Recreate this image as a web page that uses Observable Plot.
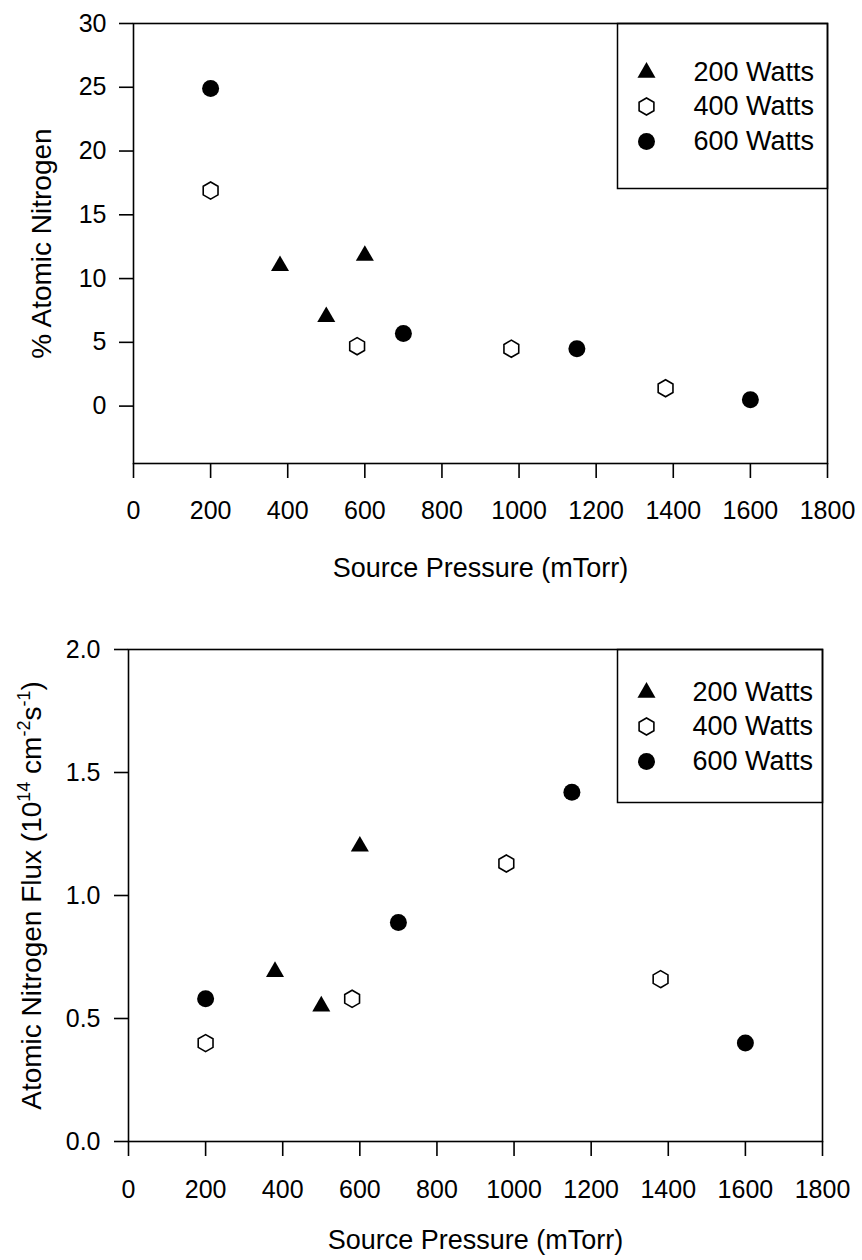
<!DOCTYPE html>
<html>
<head>
<meta charset="utf-8">
<script src="https://cdn.jsdelivr.net/npm/d3@7"></script>
<script src="https://cdn.jsdelivr.net/npm/@observablehq/plot@0.6"></script>
<style>
html, body { margin: 0; padding: 0; background: #fff; }
#chart { width: 862px; }
#chart svg { display: block; }
</style>
</head>
<body>
<div id="chart"></div>
<script>
// ---------- data ----------
const seriesNames = ["200 Watts", "400 Watts", "600 Watts"];

const pressure200 = [380, 500, 600];
const pressure400 = [200, 580, 980, 1380];
const pressure600 = [200, 700, 1150, 1600];

const percentN200 = [11.0, 7.0, 11.8];
const percentN400 = [16.9, 4.7, 4.5, 1.4];
const percentN600 = [24.9, 5.7, 4.5, 0.5];

const flux200 = [0.69, 0.55, 1.20];
const flux400 = [0.40, 0.58, 1.13, 0.66];
const flux600 = [0.58, 0.89, 1.42, 0.40];

const xTicks = [0, 200, 400, 600, 800, 1000, 1200, 1400, 1600, 1800];
const yTicksTop = [0, 5, 10, 15, 20, 25, 30];
const yTicksBottom = [0, 0.5, 1.0, 1.5, 2.0];

const xTitle = "Source Pressure (mTorr)";
const yTitleTop = "% Atomic Nitrogen";
const yTitleBottomParts = [
  ["Atomic Nitrogen Flux (10", false], ["14", true], [" cm", false],
  ["-2", true], ["s", false], ["-1", true], [")", false]
];

// ---------- helpers ----------
function rows(pressures, values, series) {
  return pressures.map((p, i) => ({pressure: p, value: values[i], series}));
}

const seriesStyle = {
  "200 Watts": {symbol: "triangle", r: 6.7, fill: "black", stroke: "none"},
  "400 Watts": {symbol: "hexagon", r: 7.4, fill: "white", stroke: "black", strokeWidth: 1.6},
  "600 Watts": {symbol: "circle", r: 8.5, fill: "black", stroke: "none"}
};

const FONT = "'Liberation Sans', Arial, Helvetica, sans-serif";

function panel(cfg) {
  const marks = [];
  // legend box
  marks.push(Plot.frame({
    insetLeft: cfg.legendLeft, insetBottom: cfg.legendBottom,
    stroke: "black", strokeWidth: 1.5, fill: "white"
  }));
  marks.push(Plot.frame({stroke: "black", strokeWidth: 1.6}));
  marks.push(Plot.axisX({
    ticks: xTicks, tickSize: 15, tickPadding: cfg.xTickPadding, label: null,
    tickFormat: d3.format("d"), fontSize: 25, strokeWidth: 1.6
  }));
  marks.push(Plot.axisY({
    ticks: cfg.yTicks, tickSize: 14, tickPadding: cfg.yTickPadding, label: null,
    tickFormat: cfg.yFormat, fontSize: 25, strokeWidth: 1.6
  }));
  // data points
  cfg.series.forEach(({name, data}) => {
    const st = seriesStyle[name];
    marks.push(Plot.dot(data, {x: "pressure", y: "value", ...st}));
  });
  // legend entries
  seriesNames.forEach((name, i) => {
    const st = seriesStyle[name];
    marks.push(Plot.dot([name], {
      frameAnchor: "top-left", dx: cfg.legendSymbolDx, dy: cfg.legendRowsDy[i], ...st
    }));
    marks.push(Plot.text([name], {
      frameAnchor: "top-left", dx: cfg.legendTextDx, dy: cfg.legendRowsDy[i],
      text: d => d, textAnchor: "start", lineAnchor: "middle", fontSize: 27, fill: "black"
    }));
  });
  // axis titles
  marks.push(Plot.text([xTitle], {
    frameAnchor: "bottom", dy: cfg.xTitleDy, text: d => d,
    textAnchor: "middle", lineAnchor: "middle", fontSize: 27, fill: "black"
  }));
  marks.push(Plot.text([cfg.yTitle], {
    frameAnchor: "left", dx: cfg.yTitleDx, text: d => d, rotate: -90,
    textAnchor: "middle", lineAnchor: "middle", fontSize: 28, fill: "black"
  }));
  return Plot.plot({
    width: 862,
    height: cfg.height,
    marginTop: cfg.marginTop,
    marginBottom: cfg.marginBottom,
    marginLeft: cfg.marginLeft,
    marginRight: cfg.marginRight,
    style: {fontFamily: FONT, fontSize: "25px", color: "black", background: "white"},
    x: {domain: [0, 1800]},
    y: {domain: cfg.yDomain},
    marks
  });
}

// ---------- top panel ----------
const topData = [
  {name: "200 Watts", data: rows(pressure200, percentN200, "200 Watts")},
  {name: "400 Watts", data: rows(pressure400, percentN400, "400 Watts")},
  {name: "600 Watts", data: rows(pressure600, percentN600, "600 Watts")}
];
const svgTop = panel({
  height: 620, marginTop: 23, marginBottom: 157, marginLeft: 133, marginRight: 35,
  yDomain: [-4.5, 30], yTicks: yTicksTop, yFormat: d3.format("d"),
  xTickPadding: 23, yTickPadding: 13,
  legendLeft: 484, legendBottom: 275,
  legendSymbolDx: 513, legendTextDx: 560, legendRowsDy: [49, 83, 118],
  xTitleDy: 105, yTitleDx: -91, yTitle: yTitleTop,
  series: topData
});

// ---------- bottom panel ----------
const bottomData = [
  {name: "200 Watts", data: rows(pressure200, flux200, "200 Watts")},
  {name: "400 Watts", data: rows(pressure400, flux400, "400 Watts")},
  {name: "600 Watts", data: rows(pressure600, flux600, "600 Watts")}
];
const yTitleBottom = yTitleBottomParts.map(d => d[0]).join("");
const svgBottom = panel({
  height: 640, marginTop: 29, marginBottom: 119, marginLeft: 128, marginRight: 40,
  yDomain: [0, 2], yTicks: yTicksBottom, yFormat: d3.format(".1f"),
  xTickPadding: 24, yTickPadding: 14,
  legendLeft: 489, legendBottom: 339,
  legendSymbolDx: 518, legendTextDx: 564, legendRowsDy: [43, 77, 112],
  xTitleDy: 99, yTitleDx: -96, yTitle: yTitleBottom,
  series: bottomData
});

// superscripts in the flux axis title
d3.select(svgBottom).selectAll("text").each(function() {
  if (this.textContent === yTitleBottom) {
    const t = d3.select(this);
    t.text(null);
    let raised = false;
    yTitleBottomParts.forEach(([s, sup]) => {
      const ts = t.append("tspan").text(s);
      if (sup && !raised) { ts.attr("dy", -11).attr("font-size", 18); raised = true; }
      else if (sup) { ts.attr("font-size", 18); }
      else if (!sup && raised) { ts.attr("dy", 11); raised = false; }
    });
  }
});

document.getElementById("chart").append(svgTop, svgBottom);
</script>
</body>
</html>
